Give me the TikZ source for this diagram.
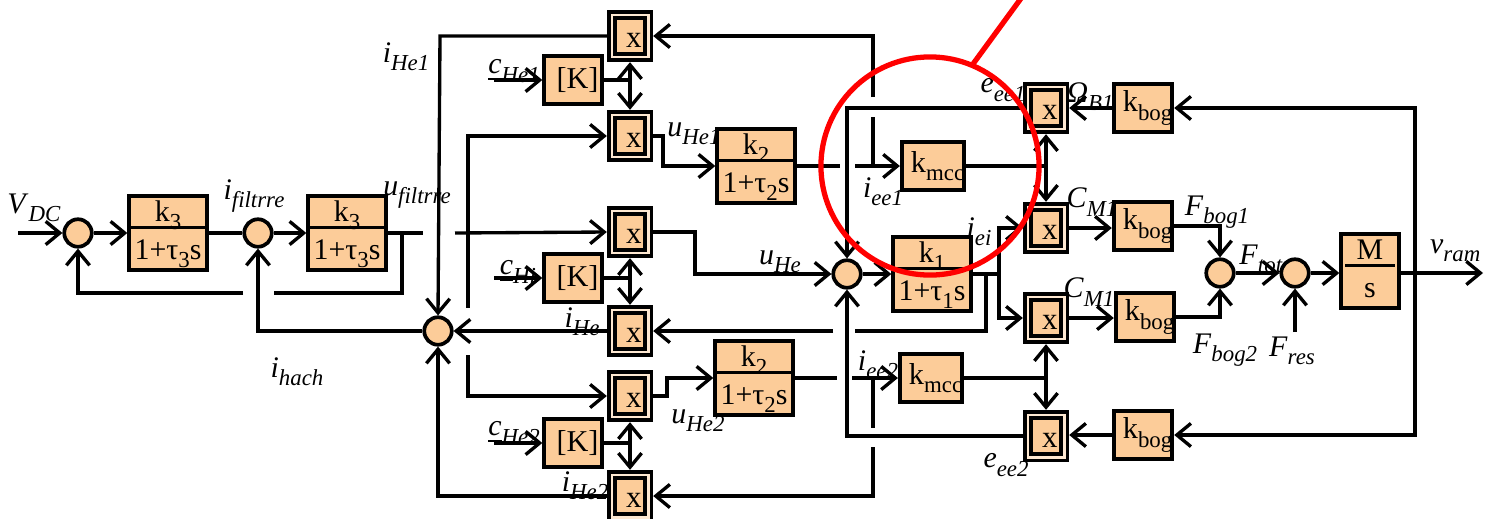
\documentclass[tikz,border=0pt]{standalone}
\usepackage{fontspec}
\setmainfont{Liberation Serif}
\usepackage{tikz}
\usetikzlibrary{arrows.meta, positioning}
\definecolor{BlockPeach}{RGB}{252, 204, 153}
\definecolor{MarkRed}{RGB}{255, 0, 0}
\setlength{\arrayrulewidth}{0.8pt}
\newcommand{\sig}[2]{\textit{#1}\raisebox{-0.6ex}{\fontsize{6.5}{7}\selectfont\textit{#2}}}
\newcommand{\csig}[1]{\underline{\textit{c}}\raisebox{-0.6ex}{\fontsize{6.5}{7}\selectfont\textit{#1}}}
\newcommand{\ksub}[2]{#1\raisebox{-0.6ex}{\fontsize{6.5}{7}\selectfont #2}}
\newcommand{\blkfrac}[2]{\begin{tabular}{@{\hspace{1.5pt}}c@{\hspace{1.5pt}}}#1\\[-1.5pt]\hline\rule{0pt}{8.5pt}#2\end{tabular}}
\tikzset{
  sumj/.style={circle, draw, line width=1.05pt, fill=BlockPeach,
    minimum size=0.275cm, inner sep=0pt},
  tfbox/.style={rectangle, draw, line width=1.1pt, fill=BlockPeach,
    minimum width=0.775cm, minimum height=0.635cm, inner sep=0pt,
    font=\fontsize{8.5}{10}\selectfont},
  gain/.style={rectangle, draw, line width=1.1pt, fill=BlockPeach,
    minimum width=0.575cm, minimum height=0.475cm, inner sep=0pt,
    font=\fontsize{8.6}{10}\selectfont, execute at begin node={\hspace{2.6pt}}},
  mult/.style={rectangle, draw, line width=1.05pt, double=BlockPeach!45,
    double distance=0.7pt, fill=BlockPeach, minimum width=0.365cm,
    minimum height=0.425cm, inner sep=0pt, outer sep=1.4pt,
    text height=6.3pt, text depth=0pt,
    font=\fontsize{8.8}{10}\selectfont, execute at begin node={\hspace{2.2pt}}},
  lbl/.style={inner sep=0pt, font=\fontsize{8.5}{10}\selectfont},
  arr/.style={-{Straight Barb[length=4pt,width=6.6pt]}, line width=0.95pt},
  darr/.style={{Straight Barb[length=4pt,width=6.6pt]}-{Straight Barb[length=4pt,width=6.6pt]},
    line width=0.95pt},
  wire/.style={line width=0.95pt},
}

\begin{document}
\begin{tikzpicture}[x=0.01cm, y=-0.01cm]
  \fill[white] (0,0) rectangle (1485,518);
  \useasboundingbox (0,0) rectangle (1485,518);
  % signal names (drawn first, the blocks cover them in places)
  \foreach \n/\x/\y/\t in {
    vdc/34/208/{\sig{V}{DC}}, ifil/254/196/{\sig{i}{filtrre}},
    ufil/417/195/{\sig{u}{filtrre}}, ihach/297/372/{\sig{i}{hach}},
    ihe1/406/57/{\sig{i}{He1}}, che1/514/71/{\csig{He1}},
    chi/518/272/{\csig{Hi}}, che2/514/433/{\csig{He2}},
    uhe1/694/134/{\sig{u}{He1}}, ihe/582/322/{\sig{i}{He}},
    uhe2/698/421/{\sig{u}{He2}}, ihe2/585/486/{\sig{i}{He2}},
    uhe/780/262/{\sig{u}{He}}, iee1/883/192/{\sig{i}{ee1}},
    eee1/1003/90/{\sig{e}{ee1}}, omb1/1090/97/{\sig{Ω}{B1}},
    iei/979/232/{\sig{i}{ei}}, cma/1092/202/{\sig{C}{M1}},
    cmb/1089/292/{\sig{C}{M1}}, fbga/1217/212/{\sig{F}{bog1}},
    fbgb/1225/350/{\sig{F}{bog2}}, ftot/1261/259/{\sig{F}{tot}},
    fres/1292/351/{\sig{F}{res}}, iee2/878/365/{\sig{i}{ee2}},
    eee2/1006/465/{\sig{e}{ee2}}}
    \node[lbl] (lb-\n) at (\x,\y) {\t};
  \node[lbl, anchor=east] (lb-vram) at (1481,251) {\sig{v}{ram}};

  % summing junctions
  \foreach \n/\x/\y in {s1/78/233, s2/258/233, s3/438/331, s4/847/274,
                        s5/1220/273, s6/1295/273}
    \node[sumj] (\n) at (\x,\y) {};
  % multipliers
  \foreach \n/\x/\y in {m1/630/36, m2/630/136, m3/630/232, m5/630/331,
                        m4/630/396, m6/630/496, mb1/1046/108, mb2/1046/228,
                        mb3/1046/318, mb4/1046/436}
    \node[mult] (\n) at (\x,\y) {x};
  % gains
  \foreach \n/\y in {k1/80, k2/278, k3/443}
    \node[gain] (\n) at (573,\y) {[K]};
  \node[gain] (kc1) at (933,166) {\ksub{k}{mcc}};
  \node[gain] (kc2) at (931,378) {\ksub{k}{mcc}};
  \foreach \n/\x/\y in {kb1/1143/108, kb2/1143/226, kb3/1145/317, kb4/1143/435}
    \node[gain] (\n) at (\x,\y) {\ksub{k}{bog}};
  % transfer functions
  \node[tfbox] (f1) at (168,233) {\blkfrac{\ksub{k}{3}}{1+τ\ksub{}{3}s}};
  \node[tfbox] (f2) at (347,233) {\blkfrac{\ksub{k}{3}}{1+τ\ksub{}{3}s}};
  \node[tfbox] (f3) at (756,166) {\blkfrac{\ksub{k}{2}}{1+τ\ksub{}{2}s}};
  \node[tfbox] (f5) at (754,378) {\blkfrac{\ksub{k}{2}}{1+τ\ksub{}{2}s}};
  \node[tfbox] (f4) at (932,274) {\blkfrac{\ksub{k}{1}}{1+τ\ksub{}{1}s}};
  \node[tfbox, minimum width=0.575cm] (fm) at (1370,271) {\blkfrac{\makebox[11pt]{M}}{s}};
  \coordinate (vdc) at (18,233);
  \coordinate (fres) at (1295,332);
  \coordinate (vout) at (1483,273);

  % filter chain
  \draw[arr] (vdc) -- (s1);
  \draw[arr] (s1) -- (f1);
  \draw[wire] (f1) -- (s2);
  \draw[arr] (s2) -- (f2);
  \draw[wire] (f2.east) -- (423,233);
  \draw[arr] (455,233) -- (m3.west);
  \draw[wire] (402,233) -- (402,293) -- (274,293);
  \draw[arr] (243,293) -- (78,293) -- (s1.south);
  \draw[arr] (s3.west) -- (258,331) -- (s2.south);
  \draw[arr] (m1.west) -- (440,36) -- (s3.north);
  \draw[arr] (m5.west) -- (s3.east);
  \draw[arr] (m6.west) -- (438,496) -- (s3.south);
  \draw[arr] (468,233) -- (468,136) -- (m2.west);
  \draw[wire] (468,233) -- (468,308);
  \draw[arr] (468,355) -- (468,396) -- (m4.west);
  % [K] blocks
  \foreach \k/\a/\b in {k1/m1/m2, k2/m3/m5, k3/m4/m6} {
    \draw[arr] ([xshift=-0.48cm]\k.west) -- (\k.west);
    \draw[wire] (\k.east) -- (\k.east -| \a.south);
    \draw[darr] (\a.south) -- (\b.north);
  }
  % motor branches
  \draw[arr] (m2.east) -- (663,136) -- (663,166) -- (f3.west);
  \draw[wire] (f3.east) -- (840,166);
  \draw[arr] (855,166) -- (kc1.west);
  \draw[wire] (873,166) -- (873,117);
  \draw[arr] (873,97) -- (873,36) -- (m1.east);
  \draw[arr] (m3.east) -- (695,232) -- (695,274) -- (s4.west);
  \draw[arr] (m4.east) -- (667,396) -- (667,378) -- (f5.west);
  \draw[wire] (f5.east) -- (837,378);
  \draw[arr] (852,378) -- (kc2.west);
  \draw[wire] (873,378) -- (873,428);
  \draw[arr] (873,447) -- (873,496) -- (m6.east);
  \draw[arr] (s4) -- (f4);
  \draw[arr] (f4.east) -- (999,274) -- (999,228) -- (mb2.west);
  \draw[arr] (999,274) -- (999,318) -- (mb3.west);
  \draw[wire] (986,274) -- (986,331) -- (855,331);
  \draw[arr] (833,331) -- (m5.east);
  \draw[wire] (kc1.east) -- (kc1.east -| mb1.south);
  \draw[darr] (mb1.south) -- (mb2.north);
  \draw[wire] (kc2.east) -- (kc2.east -| mb3.south);
  \draw[darr] (mb3.south) -- (mb4.north);
  \draw[arr] (mb1.west) -- (847,108) -- (s4.north);
  \draw[arr] (mb4.west) -- (847,436) -- (s4.south);
  % bogie side
  \draw[arr] (kb1.west) -- (mb1.east);
  \draw[arr] (mb2.east) -- (mb2.east -| kb2.west);
  \draw[arr] (mb3.east) -- (mb3.east -| kb3.west);
  \draw[arr] (kb4.west) -- (kb4.west -| mb4.east);
  \draw[arr] (kb2.east) -- (1220,226) -- (s5.north);
  \draw[arr] (kb3.east) -- (1220,317) -- (s5.south);
  \draw[arr] (s5) -- (s6);
  \draw[arr] (fres) -- (s6.south);
  \draw[arr] (s6) -- (s6 -| fm.west);
  \draw[arr] (fm.east |- vout) -- (vout);
  \draw[arr] (1415,273) -- (1415,108) -- (kb1.east);
  \draw[arr] (1415,273) -- (1415,435) -- (kb4.east);

  % red mark
  \draw[MarkRed, line width=1.5pt] (930,166) circle [radius=1.09cm];
  \draw[MarkRed, line width=1.5pt] (973,64) -- (1022,-3);
\end{tikzpicture}
\end{document}
